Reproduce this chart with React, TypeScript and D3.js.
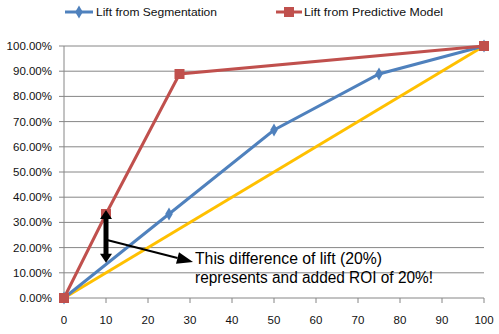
import React from "react";
import * as d3 from "d3";

const segX = [0, 25, 50, 75, 100];
const segY = [0, 0.3333, 0.6667, 0.8889, 1.0];
const predX = [0, 10, 27.5, 100];
const predY = [0, 0.3333, 0.8889, 1.0];
const baseX = [0, 100];
const baseY = [0, 1.0];
const xTicks = [0, 10, 20, 30, 40, 50, 60, 70, 80, 90, 100];
const yTicks = [0, 0.1, 0.2, 0.3, 0.4, 0.5, 0.6, 0.7, 0.8, 0.9, 1.0];
const seriesNames = ["Lift from Segmentation", "Lift from Predictive Model"];
const noteLines = ["This difference of lift (20%)", "represents and added ROI of 20%!"];

const W = 499, H = 334;
const x = d3.scaleLinear().domain([0, 100]).range([64, 484]);
const y = d3.scaleLinear().domain([0, 1]).range([298, 46]);

const BLUE = "#4f81bd";
const RED = "#c0504d";
const YELLOW = "#ffc000";
const GRID = "#868686";
const FONT = "Liberation Sans, Arial, sans-serif";

export default function App() {
  const line = d3.line<[number, number]>().x(d => x(d[0])).y(d => y(d[1]));
  const seg = segX.map((v, i) => [v, segY[i]] as [number, number]);
  const pred = predX.map((v, i) => [v, predY[i]] as [number, number]);
  const base = baseX.map((v, i) => [v, baseY[i]] as [number, number]);
  const fmt = d3.format(".2%");

  const ax = x(10);
  const arrowTop = y(0.3333) - 4;
  const arrowBot = y(0.14);
  const dStart: [number, number] = [ax + 1, y(0.23)];
  const dTip: [number, number] = [193, 262];
  const ang = Math.atan2(dTip[1] - dStart[1], dTip[0] - dStart[0]);
  const hl = 16, hw = 6;
  const bx = dTip[0] - hl * Math.cos(ang), by = dTip[1] - hl * Math.sin(ang);
  const px = -Math.sin(ang) * hw, py = Math.cos(ang) * hw;

  return (
    <svg width={W} height={H} style={{ position: "absolute", left: 0, top: 0, background: "#fff" }}>
      <rect width={W} height={H} fill="#fff" />
      {yTicks.map(t => (
        <line key={"g" + t} x1={x(0) - 5} x2={x(100)} y1={y(t)} y2={y(t)} stroke={GRID} strokeWidth={1} />
      ))}
      <line x1={x(0)} x2={x(0)} y1={y(1)} y2={y(0)} stroke={GRID} strokeWidth={1} />
      {xTicks.map(t => (
        <line key={"xt" + t} x1={x(t)} x2={x(t)} y1={y(0)} y2={y(0) + 5} stroke={GRID} strokeWidth={1} />
      ))}
      {yTicks.map(t => (
        <text key={"yl" + t} x={52} y={y(t)} dy="0.35em" textAnchor="end" fontFamily={FONT} fontSize={11.5} fill="#111">
          {fmt(t)}
        </text>
      ))}
      {xTicks.map(t => (
        <text key={"xl" + t} x={x(t)} y={320} dy="0.35em" textAnchor="middle" fontFamily={FONT} fontSize={11.5} fill="#111">
          {t}
        </text>
      ))}
      <path d={line(base) || ""} fill="none" stroke={YELLOW} strokeWidth={3} />
      <path d={line(seg) || ""} fill="none" stroke={BLUE} strokeWidth={3} />
      {seg.map((d, i) => (
        <path key={"sm" + i} d={d3.symbol(d3.symbolDiamond, 50)() || ""} transform={`translate(${x(d[0])},${y(d[1])})`} fill={BLUE} />
      ))}
      <path d={line(pred) || ""} fill="none" stroke={RED} strokeWidth={3} />
      {pred.map((d, i) => (
        <rect key={"pm" + i} x={x(d[0]) - 5} y={y(d[1]) - 5} width={10} height={10} fill={RED} />
      ))}
      <line x1={ax} x2={ax} y1={arrowTop + 8} y2={arrowBot - 8} stroke="#000" strokeWidth={5} />
      <path d={`M${ax},${arrowTop} L${ax - 6},${arrowTop + 9} L${ax + 6},${arrowTop + 9} Z`} fill="#000" />
      <path d={`M${ax},${arrowBot} L${ax - 6},${arrowBot - 9} L${ax + 6},${arrowBot - 9} Z`} fill="#000" />
      <line x1={dStart[0]} y1={dStart[1]} x2={bx} y2={by} stroke="#000" strokeWidth={2} />
      <path d={`M${dTip[0]},${dTip[1]} L${bx + px},${by + py} L${bx - px},${by - py} Z`} fill="#000" />
      <text x={195} y={264} fontFamily={FONT} fontSize={16} fill="#000" textLength={187} lengthAdjust="spacingAndGlyphs">{noteLines[0]}</text>
      <text x={195} y={283} fontFamily={FONT} fontSize={16} fill="#000" textLength={238} lengthAdjust="spacingAndGlyphs">{noteLines[1]}</text>
      <line x1={65} x2={93} y1={12} y2={12} stroke={BLUE} strokeWidth={3} />
      <path d={d3.symbol(d3.symbolDiamond, 50)() || ""} transform="translate(79,12)" fill={BLUE} />
      <text x={96} y={12} dy="0.35em" fontFamily={FONT} fontSize={11.5} fill="#111" textLength={121} lengthAdjust="spacingAndGlyphs">{seriesNames[0]}</text>
      <line x1={276} x2={302} y1={12} y2={12} stroke={RED} strokeWidth={3} />
      <rect x={284} y={7} width={10} height={10} fill={RED} />
      <text x={304} y={12} dy="0.35em" fontFamily={FONT} fontSize={11.5} fill="#111" textLength={139} lengthAdjust="spacingAndGlyphs">{seriesNames[1]}</text>
    </svg>
  );
}
